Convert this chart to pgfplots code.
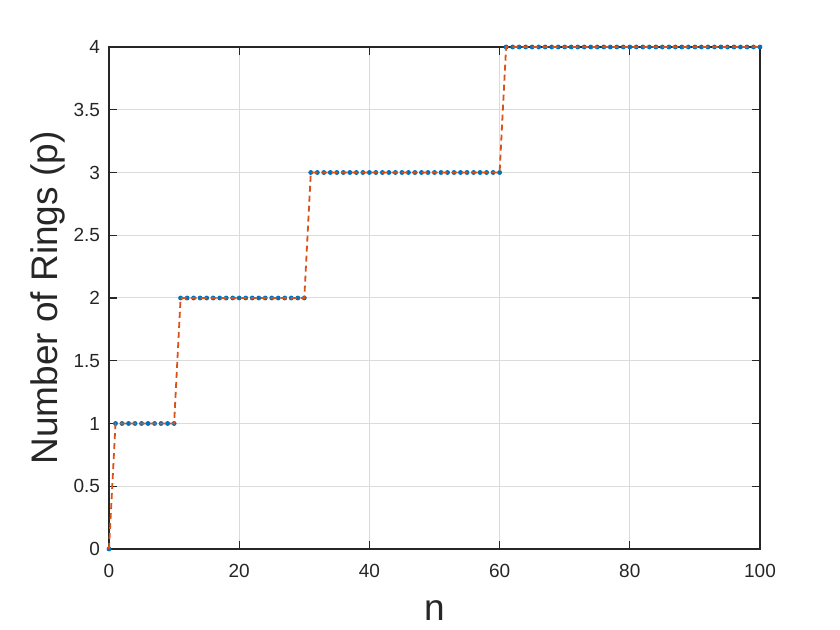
\documentclass[border=0pt]{standalone}
\usepackage{fontspec}
\setmainfont{Liberation Sans}
\usepackage{pgfplots}
\pgfplotsset{compat=1.18}
\definecolor{mblue}{rgb}{0,0.447,0.741}
\definecolor{morange}{rgb}{0.85,0.325,0.098}
\begin{document}
\begin{tikzpicture}
\begin{axis}[scale only axis,width=325.5pt,height=251pt,
  set layers,
  xmin=0,xmax=100,ymin=0,ymax=4,
  xtick={0,20,...,100},ytick={0,0.5,...,4},
  yticklabels={0,0.5,1,1.5,2,2.5,3,3.5,4},
  tick align=inside,tick pos=both,major tick length=4pt,
  grid=major,major grid style={black!14,line width=0.5pt},
  axis line style={black!85,line width=0.6pt},
  tick style={black!85,line width=0.6pt},
  ticklabel style={font=\fontsize{9.5}{11}\selectfont,text=black!85},
  xticklabel style={yshift=-4pt},
  yticklabel style={xshift=-1pt},
  /pgf/number format/assume math mode=true,
  xlabel={n},ylabel={Number of Rings (p)},
  label style={font=\fontsize{18.5}{22}\selectfont,text=black!85},
  xlabel style={at={(axis description cs:0.5,0)},anchor=base,yshift=-36pt},
  ylabel style={at={(axis description cs:0,0.5)},anchor=center,yshift=30.5pt},
  clip=false]
\pgfplotstableread{
n p
0 0
1 1
2 1
3 1
4 1
5 1
6 1
7 1
8 1
9 1
10 1
11 2
12 2
13 2
14 2
15 2
16 2
17 2
18 2
19 2
20 2
21 2
22 2
23 2
24 2
25 2
26 2
27 2
28 2
29 2
30 2
31 3
32 3
33 3
34 3
35 3
36 3
37 3
38 3
39 3
40 3
41 3
42 3
43 3
44 3
45 3
46 3
47 3
48 3
49 3
50 3
51 3
52 3
53 3
54 3
55 3
56 3
57 3
58 3
59 3
60 3
61 4
62 4
63 4
64 4
65 4
66 4
67 4
68 4
69 4
70 4
71 4
72 4
73 4
74 4
75 4
76 4
77 4
78 4
79 4
80 4
81 4
82 4
83 4
84 4
85 4
86 4
87 4
88 4
89 4
90 4
91 4
92 4
93 4
94 4
95 4
96 4
97 4
98 4
99 4
100 4
}\rings
\addplot[only marks,mark=*,mark size=1pt,mblue] table[x=n,y=p] {\rings};
\addplot[on layer=axis foreground,morange,line width=0.9pt,dash pattern=on 3pt off 2pt] table[x=n,y=p] {\rings};
\end{axis}
\pgfresetboundingbox
\path ([xshift=-54.5pt,yshift=-40.5pt]current axis.south west) rectangle ([xshift=40pt,yshift=23.5pt]current axis.north east);
\end{tikzpicture}
\end{document}
